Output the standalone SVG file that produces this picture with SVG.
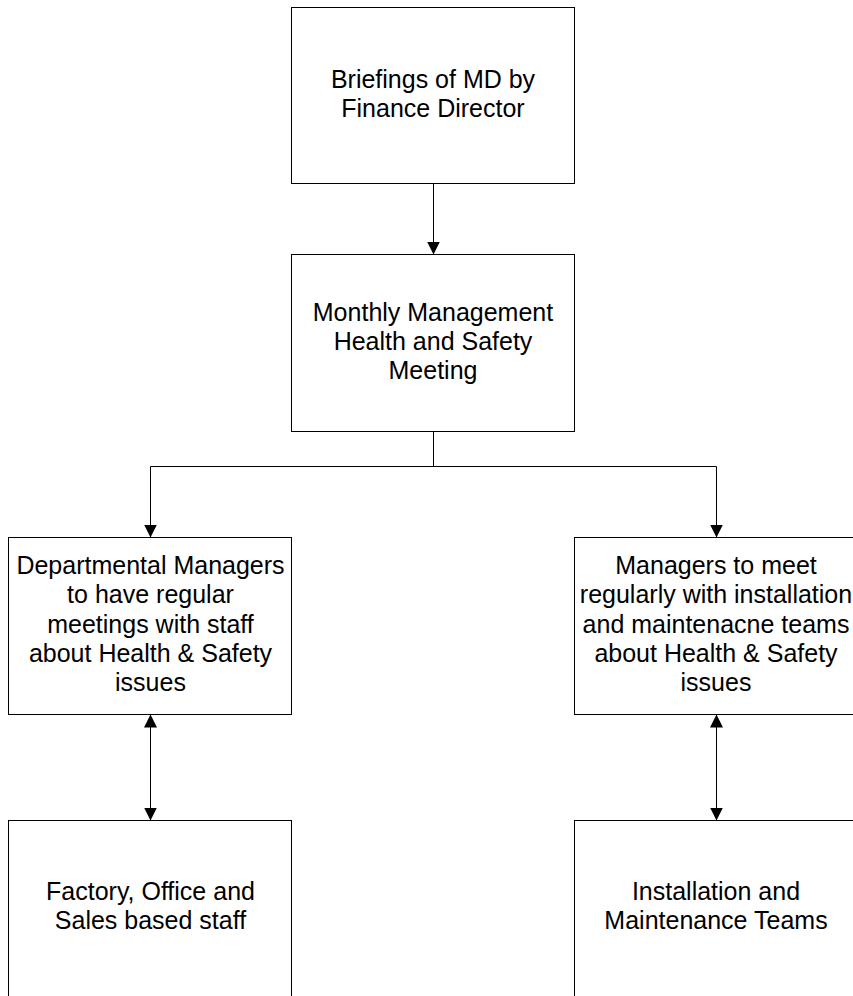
<svg xmlns="http://www.w3.org/2000/svg" width="853" height="996" viewBox="0 0 853 996">
<style>
.box{fill:#fff;stroke:#000;stroke-width:1}
.lbl{font-family:"Liberation Sans",Arial,sans-serif;font-size:25px;fill:#000;text-anchor:middle}
.conn{fill:none;stroke:#000;stroke-width:1}
</style>
<defs>
<marker id="ah" markerUnits="userSpaceOnUse" markerWidth="13" markerHeight="13" refX="13" refY="6.5" orient="auto-start-reverse" viewBox="0 0 13 13">
<path d="M0,0 L13,6.5 L0,13 z" fill="#000"/>
</marker>
</defs>
<rect width="853" height="996" fill="#fff"/>
<g id="connectors">
<line class="conn" x1="433.5" y1="183.5" x2="433.5" y2="254.5" marker-end="url(#ah)"/>
<polyline class="conn" points="433.5,431.5 433.5,466.5"/>
<polyline class="conn" points="150.5,466.5 716.5,466.5"/>
<line class="conn" x1="150.5" y1="466.5" x2="150.5" y2="537.5" marker-end="url(#ah)"/>
<line class="conn" x1="716.5" y1="466.5" x2="716.5" y2="537.5" marker-end="url(#ah)"/>
<line class="conn" x1="150.5" y1="714.5" x2="150.5" y2="820.5" marker-start="url(#ah)" marker-end="url(#ah)"/>
<line class="conn" x1="716.5" y1="714.5" x2="716.5" y2="820.5" marker-start="url(#ah)" marker-end="url(#ah)"/>
</g>
<g id="briefings">
<rect class="box" x="291.5" y="7.5" width="283" height="176"/>
<text class="lbl" x="433" y="88">Briefings of MD by</text>
<text class="lbl" x="433" y="117">Finance Director</text>
</g>
<g id="monthly">
<rect class="box" x="291.5" y="254.5" width="283" height="177"/>
<text class="lbl" x="433" y="321">Monthly Management</text>
<text class="lbl" x="433" y="350">Health and Safety</text>
<text class="lbl" x="433" y="379">Meeting</text>
</g>
<g id="departmental">
<rect class="box" x="8.5" y="537.5" width="283" height="177"/>
<text class="lbl" x="150.5" y="574">Departmental Managers</text>
<text class="lbl" x="150.5" y="603">to have regular</text>
<text class="lbl" x="150.5" y="633">meetings with staff</text>
<text class="lbl" x="150.5" y="662">about Health &amp; Safety</text>
<text class="lbl" x="150.5" y="691">issues</text>
</g>
<g id="managers">
<rect class="box" x="574.5" y="537.5" width="283" height="177"/>
<text class="lbl" x="716" y="574">Managers to meet</text>
<text class="lbl" x="716" y="603">regularly with installation</text>
<text class="lbl" x="716" y="633">and maintenacne teams</text>
<text class="lbl" x="716" y="662">about Health &amp; Safety</text>
<text class="lbl" x="716" y="691">issues</text>
</g>
<g id="staff">
<rect class="box" x="8.5" y="820.5" width="283" height="190"/>
<text class="lbl" x="150.5" y="900">Factory, Office and</text>
<text class="lbl" x="150.5" y="929">Sales based staff</text>
</g>
<g id="teams">
<rect class="box" x="574.5" y="820.5" width="283" height="190"/>
<text class="lbl" x="716" y="900">Installation and</text>
<text class="lbl" x="716" y="929">Maintenance Teams</text>
</g>
</svg>
